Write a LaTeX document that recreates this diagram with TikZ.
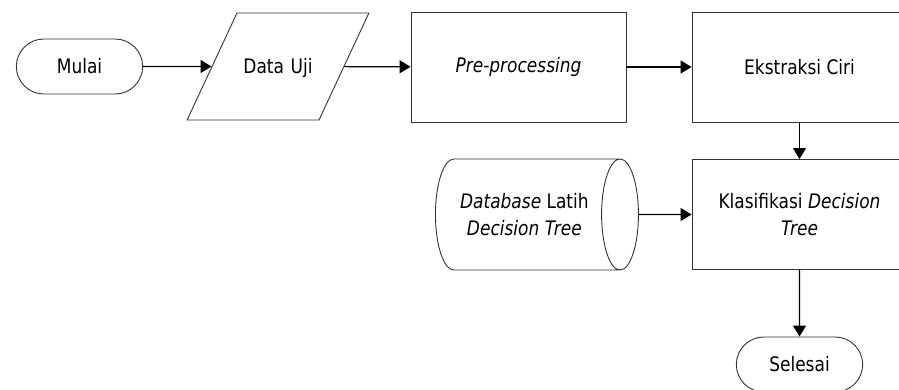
\documentclass[tikz,border=0pt]{standalone}
\usepackage{fontspec}
\setmainfont[FakeStretch=0.85]{DejaVu Sans}
\usetikzlibrary{arrows.meta,shapes.geometric,shapes.misc}

\tikzset{
  box/.style={draw=black!80,line width=0.9pt,minimum width=215,minimum height=110,align=center},
  terminal/.style={draw=black!80,line width=0.9pt,rounded rectangle,minimum width=133,minimum height=55},
  io/.style={draw=black!80,line width=0.9pt,trapezium,trapezium left angle=65,trapezium right angle=115,
    text width=82,align=center,text height=15,text depth=0.5,inner xsep=0,inner ysep=45.75},
  store/.style={draw=black!80,line width=0.9pt,cylinder,aspect=0.75,minimum width=111,minimum height=203,align=center},
  flow/.style={line width=1.2pt,-{Triangle[length=11pt,width=13pt]}}
}

\begin{document}
\begin{tikzpicture}[x=1pt,y=-1pt,font=\fontsize{20}{27}\selectfont]

% Keep the page at its fixed size
\clip (0,0) rectangle (899,389);

% Top row
\node[terminal] (mulai) at (79.5,66.5) {Mulai};
\node[io] (datauji) at (278,66.5) {Data Uji};
\node[box] (prepro) at (518.5,67) {\textit{Pre-processing}};
\node[box] (ekstraksi) at (799.5,67) {Ekstraksi Ciri};

% Classification step with its training database
\node[store,anchor=west] (database) at (435,214.5) {\textit{Database} Latih\\\textit{Decision Tree}};
\node[box] (klasifikasi) at (799.5,214.5) {Klasifikasi \textit{Decision}\\\textit{Tree}};

% End
\node[terminal] (selesai) at (799.5,364.5) {Selesai};

% Connectors
\draw[flow] (mulai) -- (datauji);
\draw[flow] (datauji) -- (prepro);
\draw[flow] (prepro) -- (ekstraksi);
\draw[flow] (ekstraksi) -- (klasifikasi);
\draw[flow] (database) -- (klasifikasi);
\draw[flow] (klasifikasi) -- (selesai);

\end{tikzpicture}
\end{document}
